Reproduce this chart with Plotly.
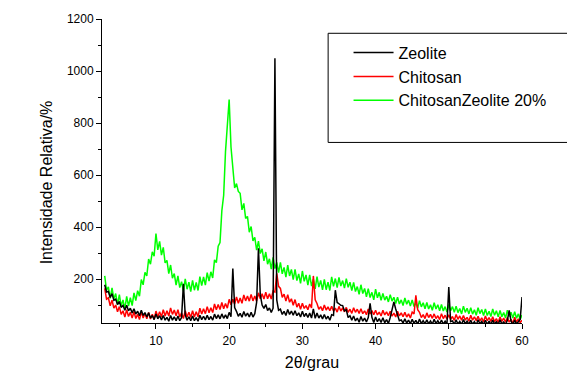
import numpy as np
import plotly.graph_objects as go

# 2-theta sampling positions (degrees), 3 to 60 in 0.25 steps
two_theta = np.round(np.arange(3.0, 60.001, 0.25), 2)

zeolite = [
    178, 150, 152, 129,
    144, 118, 123, 102,
    114, 91, 99, 80,
    99, 78, 88, 70,
    86, 66, 76, 59,
    80, 60, 71, 54,
    70, 50, 60, 44,
    66, 47, 59, 43,
    60, 42, 53, 38,
    60, 42, 55, 40,
    58, 40, 52, 182,
    62, 42, 55, 40,
    58, 40, 52, 38,
    61, 44, 57, 43,
    61, 44, 56, 42,
    65, 48, 62, 47,
    66, 49, 62, 48,
    72, 55, 240, 90,
    76, 57, 68, 53,
    75, 57, 69, 54,
    72, 54, 67, 110,
    318, 140, 100, 87,
    102, 79, 89, 72,
    88, 1049, 120, 80,
    84, 64, 76, 60,
    83, 64, 77, 61,
    78, 59, 70, 54,
    76, 56, 68, 52,
    69, 50, 85, 49,
    69, 50, 62, 47,
    64, 46, 57, 42,
    63, 60, 157, 110,
    105, 99, 98, 78,
    82, 52, 59, 42,
    58, 39, 50, 34,
    56, 38, 50, 35,
    52, 107, 53, 33,
    54, 36, 48, 33,
    51, 32, 44, 29,
    52, 80, 112, 85,
    60, 40, 43, 31,
    47, 31, 42, 28,
    45, 30, 41, 27,
    46, 29, 40, 28,
    43, 28, 39, 26,
    45, 29, 40, 27,
    42, 27, 38, 25,
    169, 36, 39, 26,
    43, 27, 37, 25,
    44, 28, 38, 26,
    41, 26, 36, 24,
    43, 28, 37, 25,
    41, 26, 38, 25,
    42, 27, 36, 26,
    43, 27, 35, 25,
    41, 80, 38, 25,
    42, 27, 36, 45,
    131,
]

chitosan = [
    164, 123, 128, 97,
    119, 88, 100, 74,
    94, 64, 78, 54,
    82, 56, 72, 50,
    74, 48, 65, 44,
    74, 50, 68, 47,
    72, 46, 65, 45,
    77, 54, 74, 55,
    82, 58, 78, 58,
    89, 64, 81, 59,
    82, 54, 70, 48,
    78, 54, 72, 52,
    78, 54, 74, 55,
    88, 66, 86, 67,
    94, 70, 90, 71,
    104, 82, 102, 83,
    110, 86, 106, 88,
    122, 101, 122, 104,
    131, 107, 127, 107,
    139, 116, 135, 115,
    141, 116, 135, 115,
    147, 124, 143, 123,
    149, 124, 143, 123,
    154, 150, 222, 172,
    164, 130, 142, 115,
    140, 111, 124, 99,
    121, 92, 107, 84,
    107, 87, 98, 82,
    104, 89, 212, 120,
    106, 84, 94, 78,
    100, 81, 93, 78,
    95, 77, 88, 73,
    95, 77, 89, 74,
    91, 72, 84, 68,
    90, 72, 84, 68,
    86, 67, 78, 63,
    85, 66, 79, 63,
    80, 62, 73, 58,
    80, 62, 74, 59,
    76, 58, 69, 54,
    76, 58, 70, 55,
    72, 54, 66, 50,
    73, 66, 137, 82,
    72, 52, 63, 48,
    70, 52, 64, 49,
    66, 48, 59, 44,
    67, 48, 61, 46,
    63, 45, 56, 41,
    64, 45, 58, 42,
    60, 42, 53, 38,
    61, 42, 55, 40,
    57, 39, 51, 35,
    58, 40, 52, 37,
    55, 36, 48, 33,
    55, 37, 50, 34,
    52, 34, 45, 30,
    53, 34, 47, 32,
    42,
]

chitosan_zeolite = [
    212, 157, 170, 126,
    166, 123, 144, 102,
    140, 96, 120, 84,
    133, 96, 128, 98,
    147, 117, 155, 134,
    198, 178, 226, 212,
    277, 257, 305, 288,
    375, 312, 345, 292,
    322, 262, 272, 221,
    254, 203, 221, 177,
    212, 167, 190, 153,
    201, 161, 188, 152,
    195, 157, 187, 156,
    209, 175, 208, 177,
    225, 192, 228, 204,
    274, 263, 326, 340,
    462, 522, 690, 796,
    890, 708, 626, 550,
    567, 537, 530, 466,
    491, 433, 441, 380,
    402, 347, 360, 311,
    346, 298, 316, 270,
    304, 257, 278, 238,
    283, 240, 264, 225,
    264, 220, 245, 207,
    254, 212, 237, 198,
    237, 194, 220, 183,
    231, 191, 216, 177,
    216, 173, 199, 162,
    209, 169, 195, 158,
    199, 159, 188, 156,
    208, 172, 202, 167,
    206, 173, 194, 165,
    202, 168, 188, 156,
    187, 152, 171, 141,
    178, 144, 164, 132,
    163, 129, 149, 120,
    161, 128, 149, 118,
    145, 119, 134, 112,
    140, 115, 130, 106,
    130, 104, 120, 98,
    127, 103, 119, 96,
    120, 94, 110, 88,
    117, 93, 109, 86,
    110, 85, 101, 80,
    109, 85, 101, 78,
    102, 77, 94, 73,
    102, 78, 94, 72,
    96, 71, 87, 66,
    96, 72, 88, 66,
    90, 65, 82, 61,
    90, 67, 83, 60,
    85, 60, 76, 56,
    85, 61, 78, 55,
    79, 55, 71, 50,
    80, 56, 72, 50,
    74, 49, 66, 45,
    62,
]

series_names = ["Zeolite", "Chitosan", "ChitosanZeolite 20%"]
series_colors = ["#000000", "#ff0000", "#00ff00"]
series_values = [zeolite, chitosan, chitosan_zeolite]

x_tick_vals = [10, 20, 30, 40, 50, 60]
y_tick_vals = [200, 400, 600, 800, 1000, 1200]

FONT = "Liberation Sans, Arial, sans-serif"

fig = go.Figure()
# drawn green first, red, then black on top; legend shown reversed (Zeolite first)
for name, color, vals in reversed(list(zip(series_names, series_colors, series_values))):
    fig.add_trace(go.Scatter(
        x=two_theta, y=vals, mode="lines", name=name,
        line=dict(color=color, width=1.5),
    ))

fig.update_layout(
    width=567, height=363,
    margin=dict(l=94, r=53, t=11, b=48),
    paper_bgcolor="white", plot_bgcolor="white",
    font=dict(family=FONT, color="#000000", size=12),
    showlegend=True,
    legend=dict(
        x=0.587, y=0.945, xanchor="left", yanchor="top",
        traceorder="reversed",
        bgcolor="rgba(0,0,0,0)", borderwidth=0,
        font=dict(family=FONT, size=16, color="#000000"),
        itemwidth=40,
    ),
    shapes=[dict(
        type="rect", xref="paper", yref="paper",
        x0=0.5384, x1=1.2, y0=0.594, y1=0.953,
        line=dict(color="#000000", width=1), fillcolor="rgba(0,0,0,0)",
    )],
    annotations=[dict(
        text="Intensidade Relativa/%", textangle=-90,
        xref="paper", yref="paper", x=-0.13, y=0.464,
        xanchor="center", yanchor="middle", showarrow=False,
        font=dict(size=16, family=FONT, color="#000000"),
    )],
    xaxis=dict(
        range=[2.63, 60], tickvals=x_tick_vals,
        automargin=False,
        showline=True, linecolor="#000000", linewidth=1,
        ticks="outside", ticklen=5, tickcolor="#000000",
        ticklabelstandoff=2,
        minor=dict(dtick=5, tick0=0, ticks="outside", ticklen=3, tickcolor="#000000"),
        showgrid=False, zeroline=False, mirror=False,
        tickfont=dict(size=12, family=FONT),
        title=dict(text="2θ/grau", font=dict(size=16, family=FONT), standoff=18),
    ),
    yaxis=dict(
        range=[31, 1200], tickvals=y_tick_vals,
        automargin=False,
        showline=True, linecolor="#000000", linewidth=1,
        ticks="outside", ticklen=5, tickcolor="#000000",
        minor=dict(dtick=100, tick0=0, ticks="outside", ticklen=3, tickcolor="#000000"),
        showgrid=False, zeroline=False, mirror=False,
        tickfont=dict(size=12, family=FONT),
    ),
)

fig.write_html("out.html")
